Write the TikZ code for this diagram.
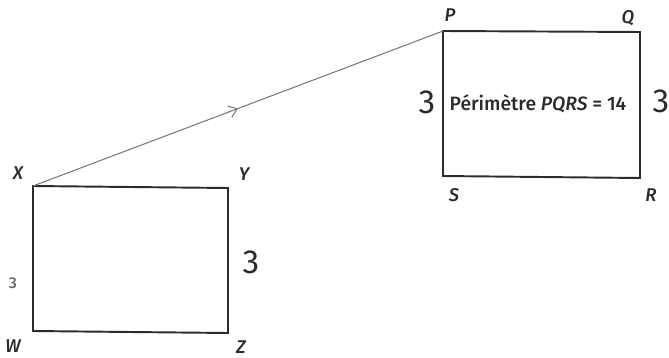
\documentclass[tikz,border=0pt]{standalone}
\usepackage{fontspec}
\setmainfont{Fira Sans}[BoldFont={Fira Sans Medium}, BoldItalicFont={Fira Sans Medium Italic}]
\usetikzlibrary{arrows.meta, decorations.markings}
\definecolor{ink}{HTML}{2B2B2B}
\definecolor{wire}{HTML}{7A7A7A}
\definecolor{soft}{HTML}{666666}

\begin{document}
\begin{tikzpicture}[x=0.02cm, y=-0.02cm,
          box/.style={draw=ink, line width=1.1pt, line join=miter},
          wireline/.style={draw=wire, line width=0.6pt,
            postaction={decorate, decoration={markings,
              mark=at position 0.5 with {\arrow{Straight Barb[length=1.6mm, width=2.4mm]}}}}},
          lab/.style={font=\bfseries\itshape\fontsize{10.5}{12}\selectfont, text=ink},
          hand/.style={font=\fontsize{19}{19}\selectfont, text=ink}
        ]
        \useasboundingbox (0,0) rectangle (669,358);
        % corners
        \coordinate (X) at (33,186);
        \coordinate (Y) at (228,188);
        \coordinate (Z) at (228,333);
        \coordinate (W) at (33,331);
        \coordinate (P) at (443,31);
        \coordinate (Q) at (640,32);
        \coordinate (R) at (640,178);
        \coordinate (S) at (443,176);
        \draw[box] (X) -- (Y) -- (Z) -- (W) -- cycle;
        \draw[box] (P) -- (Q) -- (R) -- (S) -- cycle;
        \draw[wireline] (X) -- (P);
        % vertex names
        \node[lab] (lX) at (18,173) {X};
        \node[lab] (lY) at (244,174) {Y};
        \node[lab] (lZ) at (241,347) {Z};
        \node[lab] (lW) at (13,346) {W};
        \node[lab] (lP) at (450,15) {P};
        \node[lab] (lQ) at (628,18) {Q};
        \node[lab] (lR) at (651,195) {R};
        \node[lab] (lS) at (454,195) {S};
        % lengths
        \node[font=\bfseries\small, text=soft] (a3) at (13,283) {3};
        \node[hand] (b3) at (251,262) {3};
        \node[hand] (c3) at (427,102) {3};
        \node[hand] (d3) at (661,101) {3};
        \node[font=\bfseries\fontsize{11}{13}\selectfont, text=ink] (per) at (538,104) {Périmètre \textit{PQRS} = 14};
      \end{tikzpicture}
\end{document}
